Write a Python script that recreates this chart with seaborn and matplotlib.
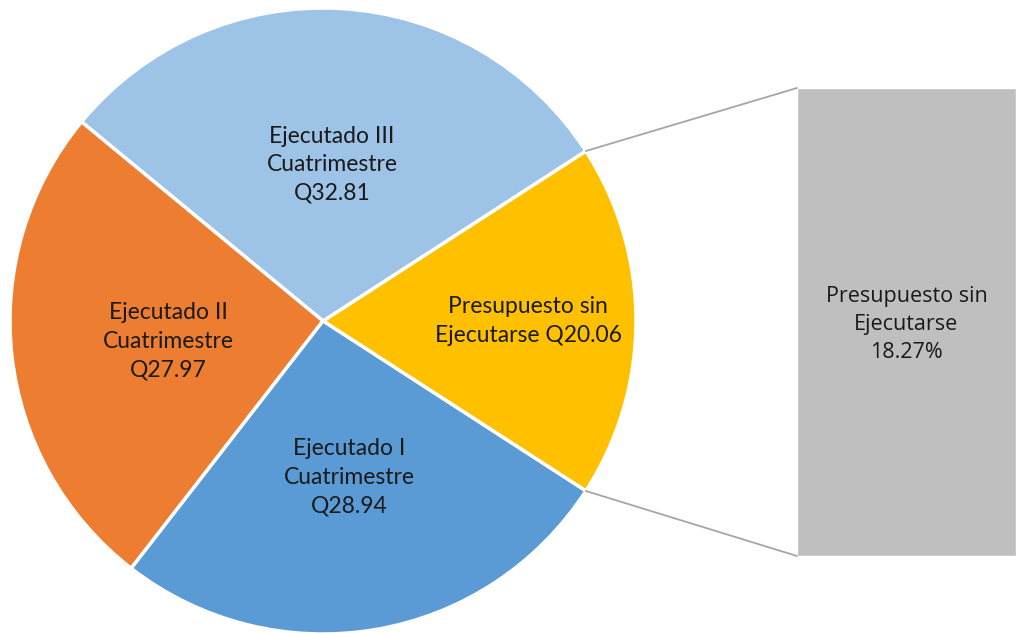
#!/usr/bin/env python3

import numpy as np
import seaborn as sns
import matplotlib.pyplot as plt
from matplotlib.patches import ConnectionPatch

# slices, counter-clockwise starting with the unspent budget
labels = [
    "Presupuesto sin\nEjecutarse Q20.06",
    "Ejecutado III\nCuatrimestre\nQ32.81",
    "Ejecutado II\nCuatrimestre\nQ27.97",
    "Ejecutado I\nCuatrimestre\nQ28.94",
]
values = [20.06, 32.81, 27.97, 28.94]
colors = ["#FFC000", "#9DC3E6", "#ED7D31", "#5B9BD5"]

bar_label = "Presupuesto sin\nEjecutarse\n18.27%"
bar_value = [18.27]


def main():
    sns.set_theme(style="white")
    plt.rcParams["font.family"] = ["Lato", "DejaVu Sans"]

    fig = plt.figure(figsize=(10.18, 6.33), dpi=100)
    fig.patch.set_facecolor("white")

    # pie on the left
    ax = fig.add_axes([10 / 1018, -1 / 633, 626 / 1018, 626 / 633])
    share = values[0] / sum(values) * 360
    wedges, texts = ax.pie(
        values,
        labels=labels,
        colors=colors,
        startangle=-share / 2,
        counterclock=True,
        radius=1,
        labeldistance=0.5,
        wedgeprops=dict(edgecolor="white", linewidth=2.5),
        textprops=dict(fontsize=16.5, color="#1a1a1a", ha="center", va="center",
                       linespacing=1.45),
    )
    texts[0].set_position((0.655, 0.0))
    texts[2].set_position((-0.495, -0.065))
    texts[3].set_position((0.083, -0.5))
    ax.set_xlim(-1, 1)
    ax.set_ylim(-1, 1)
    ax.axis("off")

    # single bar on the right
    ax2 = fig.add_axes([797 / 1018, 77 / 633, 219 / 1018, 468 / 633])
    sns.barplot(x=[0], y=bar_value, color="#BFBFBF", width=1.0, saturation=1,
                ax=ax2)
    ax2.set_xlim(-0.5, 0.5)
    ax2.set_ylim(0, bar_value[0])
    ax2.axis("off")
    ax2.text(0, bar_value[0] * 0.5 - 0.1, bar_label, ha="center", va="center",
             fontsize=15.5, color="#1a1a1a", linespacing=1.42,
             family=["Open Sans", "DejaVu Sans"])

    # connector lines from the yellow slice to the bar corners
    theta = np.deg2rad(share / 2)
    for sign, y in [(1, bar_value[0]), (-1, 0)]:
        con = ConnectionPatch(
            xyA=(np.cos(theta), sign * np.sin(theta)), coordsA=ax.transData,
            xyB=(-0.5, y), coordsB=ax2.transData,
            color="#A6A6A6", linewidth=1.3,
        )
        fig.add_artist(con)

    plt.savefig("out.png", dpi=100, facecolor="white")


if __name__ == "__main__":
    main()
